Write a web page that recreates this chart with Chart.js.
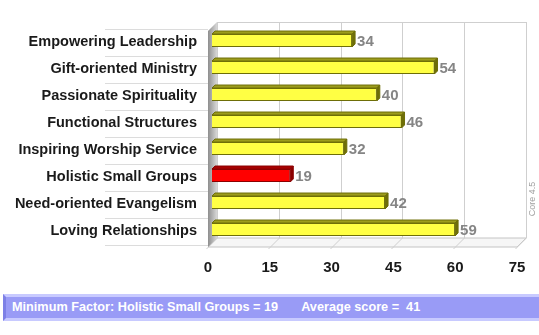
<!DOCTYPE html>
<html>
<head>
<meta charset="utf-8">
<script src="https://cdn.jsdelivr.net/npm/chart.js@4.4.0/dist/chart.umd.min.js"></script>
<style>
  body { margin: 0; background: #fff; }
  #wrap { position: relative; width: 539px; height: 335px; overflow: hidden; }
  #chart { position: absolute; left: 0; top: 0; }
  #footer {
    position: absolute; left: 3px; top: 294px; width: 536px; height: 27px;
    box-sizing: border-box;
    background: #999bf6;
    border-top: 3px solid #c8caff; border-bottom: 3px solid #c8caff; border-left: 3px solid #7d80e6;
    color: #fff; font: bold 12.7px "Liberation Sans", Arial, sans-serif;
    line-height: 21px; padding-left: 6px; white-space: pre;
  }
  #footer span.avg { margin-left: 23px; }
</style>
</head>
<body>
<div id="wrap">
  <canvas id="chart" width="539" height="335"></canvas>
  <div id="footer"></div>
</div>
<script>

var factors = ["Empowering Leadership", "Gift-oriented Ministry", "Passionate Spirituality",
  "Functional Structures", "Inspiring Worship Service", "Holistic Small Groups",
  "Need-oriented Evangelism", "Loving Relationships"];
var scores = [34, 54, 40, 46, 32, 19, 42, 59];
var xTicks = [0, 15, 30, 45, 60, 75];
var sideNote = "Core 4.5";

// minimum factor gets the red bar
var minIndex = scores.indexOf(Math.min.apply(null, scores));
var average = Math.round(scores.reduce(function(a, b) { return a + b; }, 0) / scores.length);

var faceColors = scores.map(function(v, i) { return i == minIndex ? "#ff0000" : "#ffff44"; });
var edgeColors = scores.map(function(v, i) { return i == minIndex ? "#8c0000" : "#6e6e08"; });
var topColors = scores.map(function(v, i) { return i == minIndex ? "#a80000" : "#9c9c1c"; });

document.getElementById("footer").innerHTML =
  "Minimum Factor: " + factors[minIndex] + " = " + scores[minIndex] +
  "<span class='avg'>Average score =  " + average + "</span>";

var D = 9;      // depth of the fake 3d box
var BD = 3;     // depth of each bar

var fake3d = {
  id: "fake3d",
  beforeDatasetsDraw: function(chart) {
    var c = chart.ctx, a = chart.chartArea;
    var xs = chart.scales.x;
    var back = D / 2 + 0.5, front = D / 2 - 0.5;
    c.save();

    // separator lines between the category labels
    c.strokeStyle = "#dcdcdc";
    c.lineWidth = 1;
    for (var i = 0; i <= factors.length; i++) {
      var yy = Math.round(a.top + (a.bottom - a.top) * i / factors.length + 2) + 0.5;
      c.beginPath();
      c.moveTo(105, yy);
      c.lineTo(a.left - front, yy);
      c.stroke();
    }

    // floor
    c.fillStyle = "#f6f6f6";
    c.beginPath();
    c.moveTo(a.left - front, a.bottom + front);
    c.lineTo(a.left + back, a.bottom - back);
    c.lineTo(a.right + back, a.bottom - back);
    c.lineTo(a.right - front, a.bottom + front);
    c.closePath();
    c.fill();
    c.strokeStyle = "#c4c4c4";
    c.stroke();

    // back plane grid
    c.strokeStyle = "#cfcfcf";
    xTicks.forEach(function(v) {
      var px = Math.round(xs.getPixelForValue(v) + back) + 0.5;
      c.beginPath();
      c.moveTo(px, a.top - back);
      c.lineTo(px, a.bottom - back);
      c.stroke();
      c.beginPath();
      c.moveTo(px, a.bottom - back);
      c.lineTo(px - D - 2, a.bottom + front + 2);
      c.stroke();
    });
    c.beginPath();
    c.moveTo(a.left + back, Math.round(a.top - back) + 0.5);
    c.lineTo(a.right + back, Math.round(a.top - back) + 0.5);
    c.stroke();

    // left wall
    var g = c.createLinearGradient(a.left - front, 0, a.left + back, 0);
    g.addColorStop(0, "#8e8e8e");
    g.addColorStop(1, "#d8d8d8");
    c.fillStyle = g;
    c.beginPath();
    c.moveTo(a.left - front, a.top + front);
    c.lineTo(a.left + back, a.top - back);
    c.lineTo(a.left + back, a.bottom - back);
    c.lineTo(a.left - front, a.bottom + front);
    c.closePath();
    c.fill();

    // side note
    c.translate(533, (a.top + a.bottom) / 2 + 64);
    c.rotate(-Math.PI / 2);
    c.fillStyle = "#a0a0a0";
    c.font = "9px 'Liberation Sans', Arial";
    c.textAlign = "center";
    c.textBaseline = "middle";
    c.fillText(sideNote, 0, 0);
    c.restore();
  },
  afterDatasetsDraw: function(chart) {
    var c = chart.ctx;
    var meta = chart.getDatasetMeta(0);
    c.save();
    meta.data.forEach(function(bar, i) {
      var p = bar.getProps(["x", "y", "base", "height"], true);
      var top = p.y - p.height / 2, bottom = p.y + p.height / 2;
      c.lineWidth = 1;
      c.strokeStyle = edgeColors[i];
      // top face
      c.fillStyle = topColors[i];
      c.beginPath();
      c.moveTo(p.base, top);
      c.lineTo(p.base + BD, top - BD);
      c.lineTo(p.x + BD, top - BD);
      c.lineTo(p.x, top);
      c.closePath();
      c.fill();
      c.stroke();
      // right face
      c.fillStyle = edgeColors[i];
      c.beginPath();
      c.moveTo(p.x, top);
      c.lineTo(p.x + BD, top - BD);
      c.lineTo(p.x + BD, bottom - BD);
      c.lineTo(p.x, bottom);
      c.closePath();
      c.fill();
      c.stroke();
      // value label
      c.fillStyle = "#858585";
      c.font = "bold 15px 'Liberation Sans', Arial";
      c.textAlign = "left";
      c.textBaseline = "middle";
      c.fillText(scores[i], p.x + BD + 2, p.y + 1);
    });
    c.restore();
  }
};

new Chart(document.getElementById("chart"), {
  type: "bar",
  data: {
    labels: factors,
    datasets: [{
      data: scores,
      backgroundColor: faceColors,
      borderColor: edgeColors,
      borderWidth: 1,
      barPercentage: 0.48,
      categoryPercentage: 1
    }]
  },
  options: {
    indexAxis: "y",
    responsive: false,
    animation: false,
    layout: { padding: { top: 27, right: 18, bottom: 52, left: 0 } },
    plugins: { legend: { display: false }, tooltip: { enabled: false } },
    scales: {
      x: {
        min: 0, max: 75,
        afterBuildTicks: function(s) { s.ticks = xTicks.map(function(v) { return { value: v }; }); },
        afterFit: function(s) { s.height = 40; s.paddingLeft = 0; s.paddingRight = 0; },
        grid: { display: false, drawTicks: false },
        border: { display: false },
        ticks: {
          color: "#1a1a1a", padding: 16, labelOffset: -4, maxRotation: 0,
          font: { family: "'Liberation Sans', Arial", size: 15, weight: "bold" }
        }
      },
      y: {
        afterFit: function(s) { s.width = 212; },
        grid: { display: false, drawTicks: false },
        border: { display: false },
        ticks: {
          color: "#1a1a1a", padding: 15, labelOffset: 1,
          font: { family: "'Liberation Sans', Arial", size: 14.5, weight: "bold" }
        }
      }
    }
  },
  plugins: [fake3d]
});
</script>
</body>
</html>
